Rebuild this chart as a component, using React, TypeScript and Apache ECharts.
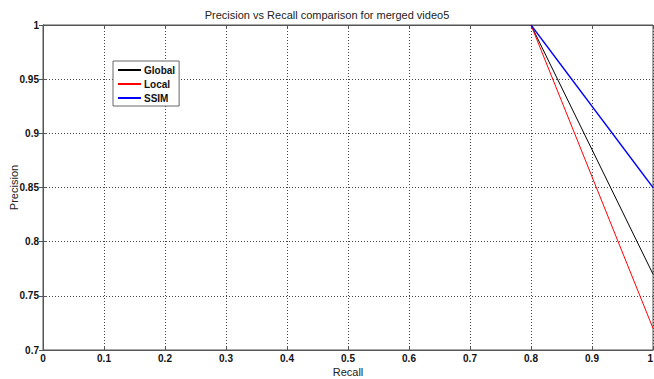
import React, { useEffect, useRef } from "react";
import * as echarts from "echarts";

const recall = [0.8, 1.0];
const globalPrecision = [1.0, 0.77];
const localPrecision = [1.0, 0.72];
const ssimPrecision = [1.0, 0.85];
const seriesNames = ["Global", "Local", "SSIM"];
const seriesColors = ["#000000", "#ff0000", "#0000ff"];
const titleText = "Precision vs Recall comparison for merged video5";

const FONT = "'Liberation Sans', Arial, sans-serif";

export default function App() {
  const ref = useRef<HTMLDivElement>(null);
  useEffect(() => {
    if (!ref.current) return;
    const chart = echarts.init(ref.current, null, { renderer: "svg" });
    const values = [globalPrecision, localPrecision, ssimPrecision];
    const tickLabel = { fontFamily: FONT, fontSize: 10, fontWeight: "bold", color: "#111" };
    chart.setOption({
      animation: false,
      backgroundColor: "#ffffff",
      title: {
        text: titleText,
        left: "center",
        top: 4,
        textStyle: { fontFamily: FONT, fontSize: 11, fontWeight: "normal", color: "#222" },
      },
      grid: {
        left: 43,
        right: 1,
        top: 25,
        bottom: 29,
        show: true,
        borderColor: "#555",
        borderWidth: 1,
        containLabel: false,
        outerBoundsMode: "none",
      },
      legend: {
        orient: "vertical",
        left: 113,
        top: 61,
        padding: [4, 4, 3, 5],
        itemGap: 4,
        itemWidth: 23,
        itemHeight: 2,
        icon: "rect",
        borderColor: "#666",
        borderWidth: 1,
        backgroundColor: "#fff",
        data: seriesNames,
        textStyle: { fontFamily: FONT, fontSize: 10, fontWeight: "bold", color: "#111", padding: [0, 0, 0, -2] },
      },
      xAxis: [
        {
          type: "value",
          min: 0,
          max: 1,
          interval: 0.1,
          name: "Recall",
          nameLocation: "middle",
          nameGap: 16,
          nameMoveOverlap: false,
          nameTextStyle: { fontFamily: FONT, fontSize: 11, color: "#222" },
          axisLine: { show: true, lineStyle: { color: "#555" } },
          axisTick: { show: true, inside: true, length: 4, lineStyle: { color: "#555" } },
          axisLabel: { ...tickLabel, margin: 3, alignMaxLabel: "right" },
          splitLine: { show: true, lineStyle: { color: "#444", type: [1, 2], width: 1 } },
        },
        {
          type: "value",
          position: "top",
          min: 0,
          max: 1,
          interval: 0.1,
          axisLine: { show: true, lineStyle: { color: "#555" } },
          axisTick: { show: true, inside: true, length: 4, lineStyle: { color: "#555" } },
          axisLabel: { show: false },
          splitLine: { show: false },
        },
      ],
      yAxis: [
        {
          type: "value",
          min: 0.7,
          max: 1,
          interval: 0.05,
          name: "Precision",
          nameLocation: "middle",
          nameGap: 24,
          nameMoveOverlap: false,
          nameTextStyle: { fontFamily: FONT, fontSize: 11, color: "#222" },
          axisLine: { show: true, lineStyle: { color: "#555" } },
          axisTick: { show: true, inside: true, length: 4, lineStyle: { color: "#555" } },
          axisLabel: { ...tickLabel, margin: 4, formatter: (v: number) => String(parseFloat(v.toFixed(2))) },
          splitLine: { show: true, lineStyle: { color: "#444", type: [1, 2], width: 1 } },
        },
        {
          type: "value",
          position: "right",
          min: 0.7,
          max: 1,
          interval: 0.05,
          axisLine: { show: true, lineStyle: { color: "#555" } },
          axisTick: { show: true, inside: true, length: 4, lineStyle: { color: "#555" } },
          axisLabel: { show: false },
          splitLine: { show: false },
        },
      ],
      series: seriesNames.map((name, i) => ({
        name,
        type: "line",
        xAxisIndex: 0,
        yAxisIndex: 0,
        showSymbol: false,
        symbol: "none",
        color: seriesColors[i],
        lineStyle: { color: seriesColors[i], width: i === 2 ? 1.3 : 1 },
        data: recall.map((r, j) => [r, values[i][j]]),
      })),
    });
    return () => chart.dispose();
  }, []);
  return (
    <div
      ref={ref}
      style={{ position: "absolute", left: 0, top: 0, width: 654, height: 379, background: "#fff" }}
    />
  );
}
